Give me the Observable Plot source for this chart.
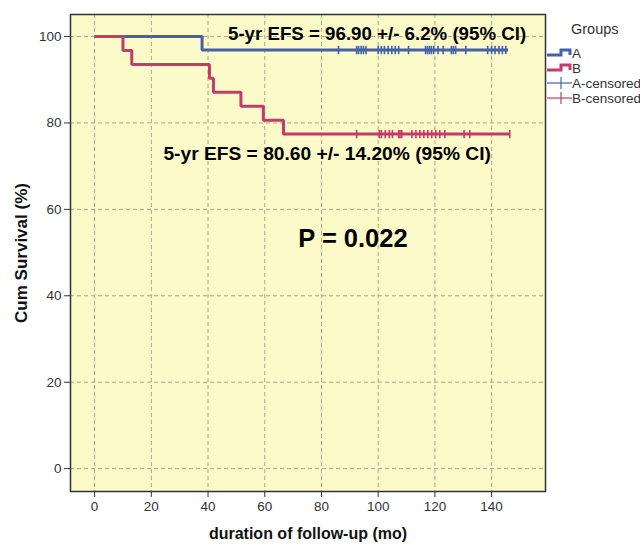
<!DOCTYPE html>
<html>
<head>
<meta charset="utf-8">
<script src="https://cdn.jsdelivr.net/npm/d3@7"></script>
<script src="https://cdn.jsdelivr.net/npm/@observablehq/plot@0.6"></script>
<style>
  html, body { margin: 0; padding: 0; background: #ffffff; }
  #chart svg { display: block; font-family: "Liberation Sans", Arial, sans-serif; }
</style>
</head>
<body>
<div id="chart"></div>
<script>
// ---- Data ----
const groups = ["A", "B"];
// Kaplan–Meier step points (time in months, cumulative survival %)
const timesA = [0, 37.9, 145.8];
const survA  = [100, 96.875, 96.875];
const timesB = [0, 10.0, 13.1, 40.5, 41.9, 51.6, 59.5, 66.6, 146.4];
const survB  = [100, 96.77, 93.55, 90.32, 87.10, 83.87, 80.65, 77.42, 77.42];
// censored times
const censTimesA = [86.0, 92.4, 93.1, 94.0, 94.8, 95.7, 100.0, 101.1, 102.2, 103.5, 104.8, 106.0, 107.2,
  110.7, 116.7, 117.4, 118.1, 118.8, 119.6, 121.1, 122.9, 125.8, 126.5, 127.3, 130.9, 138.6, 140.0,
  141.2, 142.6, 143.8, 145.0];
const censTimesB = [92.4, 100.4, 101.1, 102.5, 103.9, 105.0, 107.2, 107.7, 108.3, 111.9, 113.3, 114.7,
  116.1, 117.5, 118.9, 120.3, 121.7, 123.5, 130.3, 132.3, 146.4];
const xTicks = [0, 20, 40, 60, 80, 100, 120, 140];
const yTicks = [0, 20, 40, 60, 80, 100];
const annotationLabels = ["5-yr EFS = 96.90 +/- 6.2% (95% CI)", "5-yr EFS = 80.60 +/- 14.20% (95% CI)", "P = 0.022"];
const annotationX = [99.6, 82.0, 91.1];
const annotationY = [100.5, 72.9, 53.2];
const legendItems = ["A", "B", "A-censored", "B-censored"];

// ---- Build tables ----
const colors = {A: "#4361ad", B: "#c43a6d"};
const annotationSizes = [18.7, 19.2, 25.5];
const annotations = annotationLabels.map((label, i) => ({label, x: annotationX[i], y: annotationY[i], size: annotationSizes[i]}));
const curves = [
  ...timesA.map((t, i) => ({g: "A", t, s: survA[i]})),
  ...timesB.map((t, i) => ({g: "B", t, s: survB[i]}))
];
const lastS = g => (g === "A" ? survA[survA.length - 1] : survB[survB.length - 1]);
const cens = [
  ...censTimesA.map(t => ({g: "A", t, s: lastS("A")})),
  ...censTimesB.map(t => ({g: "B", t, s: lastS("B")}))
];

const vtick = {
  draw(ctx, size) {
    const r = Math.sqrt(size / Math.PI);
    ctx.moveTo(0, -r);
    ctx.lineTo(0, r);
  }
};

const W = 640, H = 548;
const chart = Plot.plot({
  width: W,
  height: H,
  marginLeft: 70,
  marginRight: 95,
  marginTop: 14,
  marginBottom: 57,
  style: {fontFamily: "Liberation Sans, Arial, sans-serif", background: "transparent"},
  x: {domain: [-8.5, 159.0], ticks: xTicks},
  y: {domain: [-5.3, 105.1], ticks: yTicks},
  color: {domain: groups, range: [colors.A, colors.B]},
  marks: [
    Plot.frame({fill: "#fcfac8", stroke: "none"}),
    Plot.ruleX(xTicks, {stroke: "#a8a88a", strokeDasharray: "4,3", strokeWidth: 1}),
    Plot.ruleY(yTicks, {stroke: "#a8a88a", strokeDasharray: "4,3", strokeWidth: 1}),
    Plot.line(curves, {x: "t", y: "s", z: "g", stroke: "g", curve: "step-after", strokeWidth: 3, strokeLinejoin: "miter", strokeLinecap: "butt"}),
    Plot.dot(cens, {x: "t", y: "s", stroke: "g", symbol: vtick, r: 4.2, strokeWidth: 1.6, fill: "none"}),
    Plot.text(annotations, {x: "x", y: "y", text: "label", fontSize: d => d.size, fontWeight: "bold", fill: "#000", textAnchor: "middle"}),
    Plot.frame({stroke: "#333", strokeWidth: 1.5}),
    Plot.axisX({ticks: xTicks, tickSize: 6, tickPadding: 4, fontSize: 13.5, label: null, stroke: "#333", fill: "#333"}),
    Plot.axisY({ticks: yTicks, tickSize: 6, tickPadding: 3, fontSize: 13.5, label: null, stroke: "#333", fill: "#333"}),
    Plot.text(["duration of follow-up (mo)"], {frameAnchor: "bottom", dy: 47, fontSize: 16, fontWeight: "bold", fill: "#111"}),
    Plot.text(["Cum Survival (%)"], {frameAnchor: "left", textAnchor: "middle", rotate: -90, dx: -49, fontSize: 17, fontWeight: "bold", fill: "#111"})
  ]
});

// ---- Legend (outside the plot frame) ----
const svg = d3.select(chart);
svg.attr("overflow", "visible");
const lg = svg.append("g").attr("font-family", "Liberation Sans, Arial, sans-serif").attr("text-anchor", "start");
lg.append("text").attr("x", 571).attr("y", 29).attr("dy", "0.35em")
  .attr("font-size", 14.5).attr("fill", "#333").text("Groups");
const rowsY = [53, 68, 83, 98];
legendItems.forEach((name, i) => {
  const y = rowsY[i];
  const col = name.startsWith("A") ? colors.A : colors.B;
  if (name.includes("censored")) {
    lg.append("path").attr("d", `M547,${y}H572`).attr("stroke", col).attr("stroke-width", 1.2).attr("fill", "none");
    lg.append("path").attr("d", `M561,${y - 6}V${y + 6}`).attr("stroke", col).attr("stroke-width", 1.2).attr("fill", "none");
  } else {
    lg.append("path").attr("d", `M547,${y + 2}H561V${y - 3}H570V${y + 2}`)
      .attr("stroke", col).attr("stroke-width", 3).attr("fill", "none");
  }
  lg.append("text").attr("x", 572).attr("y", y).attr("dy", "0.35em")
    .attr("font-size", 13.5).attr("fill", "#333").text(name);
});

document.getElementById("chart").append(chart);
</script>
</body>
</html>
